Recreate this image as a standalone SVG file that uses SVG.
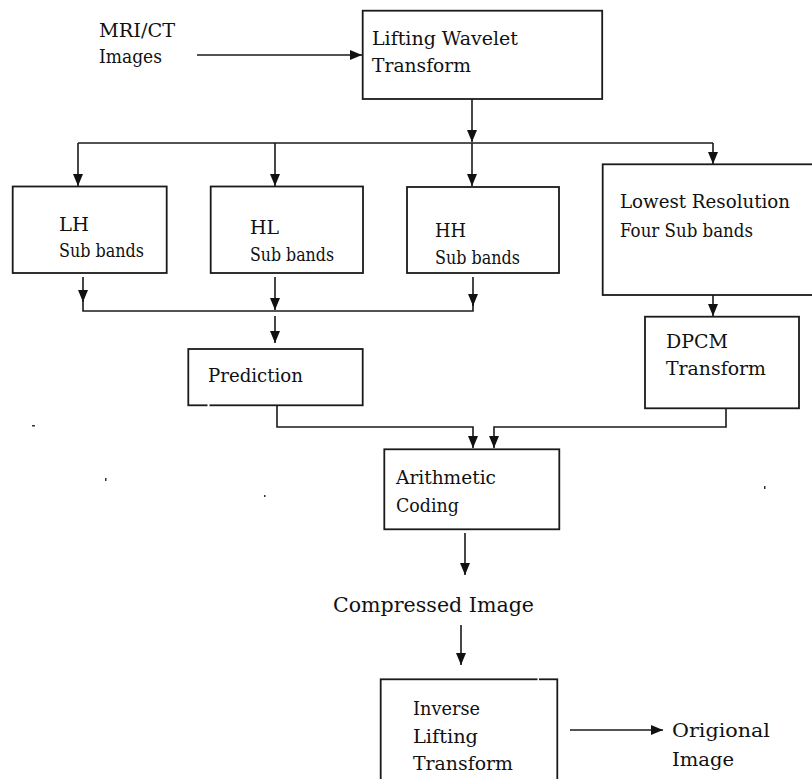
<svg xmlns="http://www.w3.org/2000/svg" width="812" height="779" viewBox="0 0 812 779">
  <style>
    .box { fill: #ffffff; stroke: #1a1a1a; stroke-width: 1.8; }
    .wire { fill: none; stroke: #1a1a1a; stroke-width: 1.6; }
    .lbl { font-family: "DejaVu Serif", "Liberation Serif", serif; font-size: 18px; fill: #111111; }
    .big { font-size: 20px; }
    .speck { fill: #333333; }
    .gap { fill: #ffffff; }
  </style>
  <defs>
    <marker id="arrow" viewBox="0 0 12 10" refX="12" refY="5" markerWidth="12" markerHeight="10" markerUnits="userSpaceOnUse" orient="auto">
      <path d="M0,0 L12,5 L0,10 z" fill="#111111"/>
    </marker>
  </defs>

  <rect width="812" height="779" fill="#ffffff"/>

  <!-- connectors -->
  <g id="connectors">
    <path class="wire" d="M197,55 H362" marker-end="url(#arrow)"/>
    <path class="wire" d="M472,99 V142" marker-end="url(#arrow)"/>
    <path class="wire" d="M78,143 H713"/>
    <path class="wire" d="M78,143 V186" marker-end="url(#arrow)"/>
    <path class="wire" d="M275,143 V186" marker-end="url(#arrow)"/>
    <path class="wire" d="M472,143 V186" marker-end="url(#arrow)"/>
    <path class="wire" d="M713,143 V164" marker-end="url(#arrow)"/>

    <path class="wire" d="M83,277 V302" marker-end="url(#arrow)"/>
    <path class="wire" d="M83,300 V311 H473 V300"/>
    <path class="wire" d="M275,277 V310" marker-end="url(#arrow)"/>
    <path class="wire" d="M473,277 V306" marker-end="url(#arrow)"/>
    <path class="wire" d="M275,316 V343" marker-end="url(#arrow)"/>

    <path class="wire" d="M277,405 V427 H473 V448" marker-end="url(#arrow)"/>
    <path class="wire" d="M713,295 V316" marker-end="url(#arrow)"/>
    <path class="wire" d="M726,408 V427 H494 V448" marker-end="url(#arrow)"/>

    <path class="wire" d="M465,533 V575" marker-end="url(#arrow)"/>
    <path class="wire" d="M461,625 V665" marker-end="url(#arrow)"/>
    <path class="wire" d="M570,730 H663" marker-end="url(#arrow)"/>
  </g>

  <!-- input label -->
  <g id="input">
    <text class="lbl" x="99" y="37" textLength="76" lengthAdjust="spacingAndGlyphs">MRI/CT</text>
    <text class="lbl" x="99" y="63" textLength="63" lengthAdjust="spacingAndGlyphs">Images</text>
  </g>

  <g id="lifting">
    <rect class="box" x="362.7" y="10.7" width="239.5" height="88.3"/>
    <text class="lbl" x="372" y="45" textLength="146" lengthAdjust="spacingAndGlyphs">Lifting Wavelet</text>
    <text class="lbl" x="372" y="72" textLength="99" lengthAdjust="spacingAndGlyphs">Transform</text>
  </g>

  <g id="lh">
    <rect class="box" x="12.7" y="186.5" width="154" height="86.5"/>
    <text class="lbl" x="59" y="231" textLength="30" lengthAdjust="spacingAndGlyphs">LH</text>
    <text class="lbl" x="59" y="257" textLength="85" lengthAdjust="spacingAndGlyphs">Sub bands</text>
  </g>

  <g id="hl">
    <rect class="box" x="210.7" y="186.5" width="152.3" height="86.5"/>
    <text class="lbl" x="250" y="234" textLength="29" lengthAdjust="spacingAndGlyphs">HL</text>
    <text class="lbl" x="250" y="261" textLength="84" lengthAdjust="spacingAndGlyphs">Sub bands</text>
  </g>

  <g id="hh">
    <rect class="box" x="407" y="187" width="152" height="86"/>
    <text class="lbl" x="435" y="237" textLength="31" lengthAdjust="spacingAndGlyphs">HH</text>
    <text class="lbl" x="435" y="264" textLength="85" lengthAdjust="spacingAndGlyphs">Sub bands</text>
  </g>

  <g id="lowest">
    <rect class="box" x="602.7" y="164.3" width="212" height="130.7"/>
    <text class="lbl" x="620" y="208" textLength="170" lengthAdjust="spacingAndGlyphs">Lowest Resolution</text>
    <text class="lbl" x="620" y="237" textLength="133" lengthAdjust="spacingAndGlyphs">Four Sub bands</text>
  </g>

  <g id="prediction">
    <rect class="box" x="188.3" y="349" width="174.4" height="56.3"/>
    <rect class="gap" x="207.5" y="404" width="2" height="3"/>
    <text class="lbl" x="208" y="382" textLength="95" lengthAdjust="spacingAndGlyphs">Prediction</text>
  </g>

  <g id="dpcm">
    <rect class="box" x="645" y="316.7" width="154" height="91.6"/>
    <text class="lbl" x="666" y="348" textLength="62" lengthAdjust="spacingAndGlyphs">DPCM</text>
    <text class="lbl" x="666" y="375" textLength="100" lengthAdjust="spacingAndGlyphs">Transform</text>
  </g>

  <g id="arithmetic">
    <rect class="box" x="384.3" y="449.3" width="175" height="80"/>
    <text class="lbl" x="396" y="484" textLength="100" lengthAdjust="spacingAndGlyphs">Arithmetic</text>
    <text class="lbl" x="396" y="512" textLength="63" lengthAdjust="spacingAndGlyphs">Coding</text>
  </g>

  <g id="compressed">
    <text class="lbl big" x="333" y="612" textLength="201" lengthAdjust="spacingAndGlyphs">Compressed Image</text>
  </g>

  <g id="inverse">
    <rect class="box" x="380.7" y="679.3" width="176.6" height="120"/>
    <rect class="gap" x="537.5" y="678" width="1.5" height="3"/>
    <text class="lbl" x="413" y="715" textLength="67" lengthAdjust="spacingAndGlyphs">Inverse</text>
    <text class="lbl" x="413" y="743" textLength="65" lengthAdjust="spacingAndGlyphs">Lifting</text>
    <text class="lbl" x="413" y="770" textLength="100" lengthAdjust="spacingAndGlyphs">Transform</text>
  </g>

  <g id="output">
    <text class="lbl" x="672" y="737" textLength="98" lengthAdjust="spacingAndGlyphs">Origional</text>
    <text class="lbl" x="672" y="766" textLength="62" lengthAdjust="spacingAndGlyphs">Image</text>
  </g>

  <!-- small stray marks -->
  <g id="specks">
    <rect class="speck" x="32" y="425" width="3" height="1.5"/>
    <rect class="speck" x="105" y="478" width="1.5" height="3"/>
    <rect class="speck" x="264" y="495" width="1.5" height="2"/>
    <rect class="speck" x="764" y="486" width="1.5" height="3"/>
  </g>
</svg>
